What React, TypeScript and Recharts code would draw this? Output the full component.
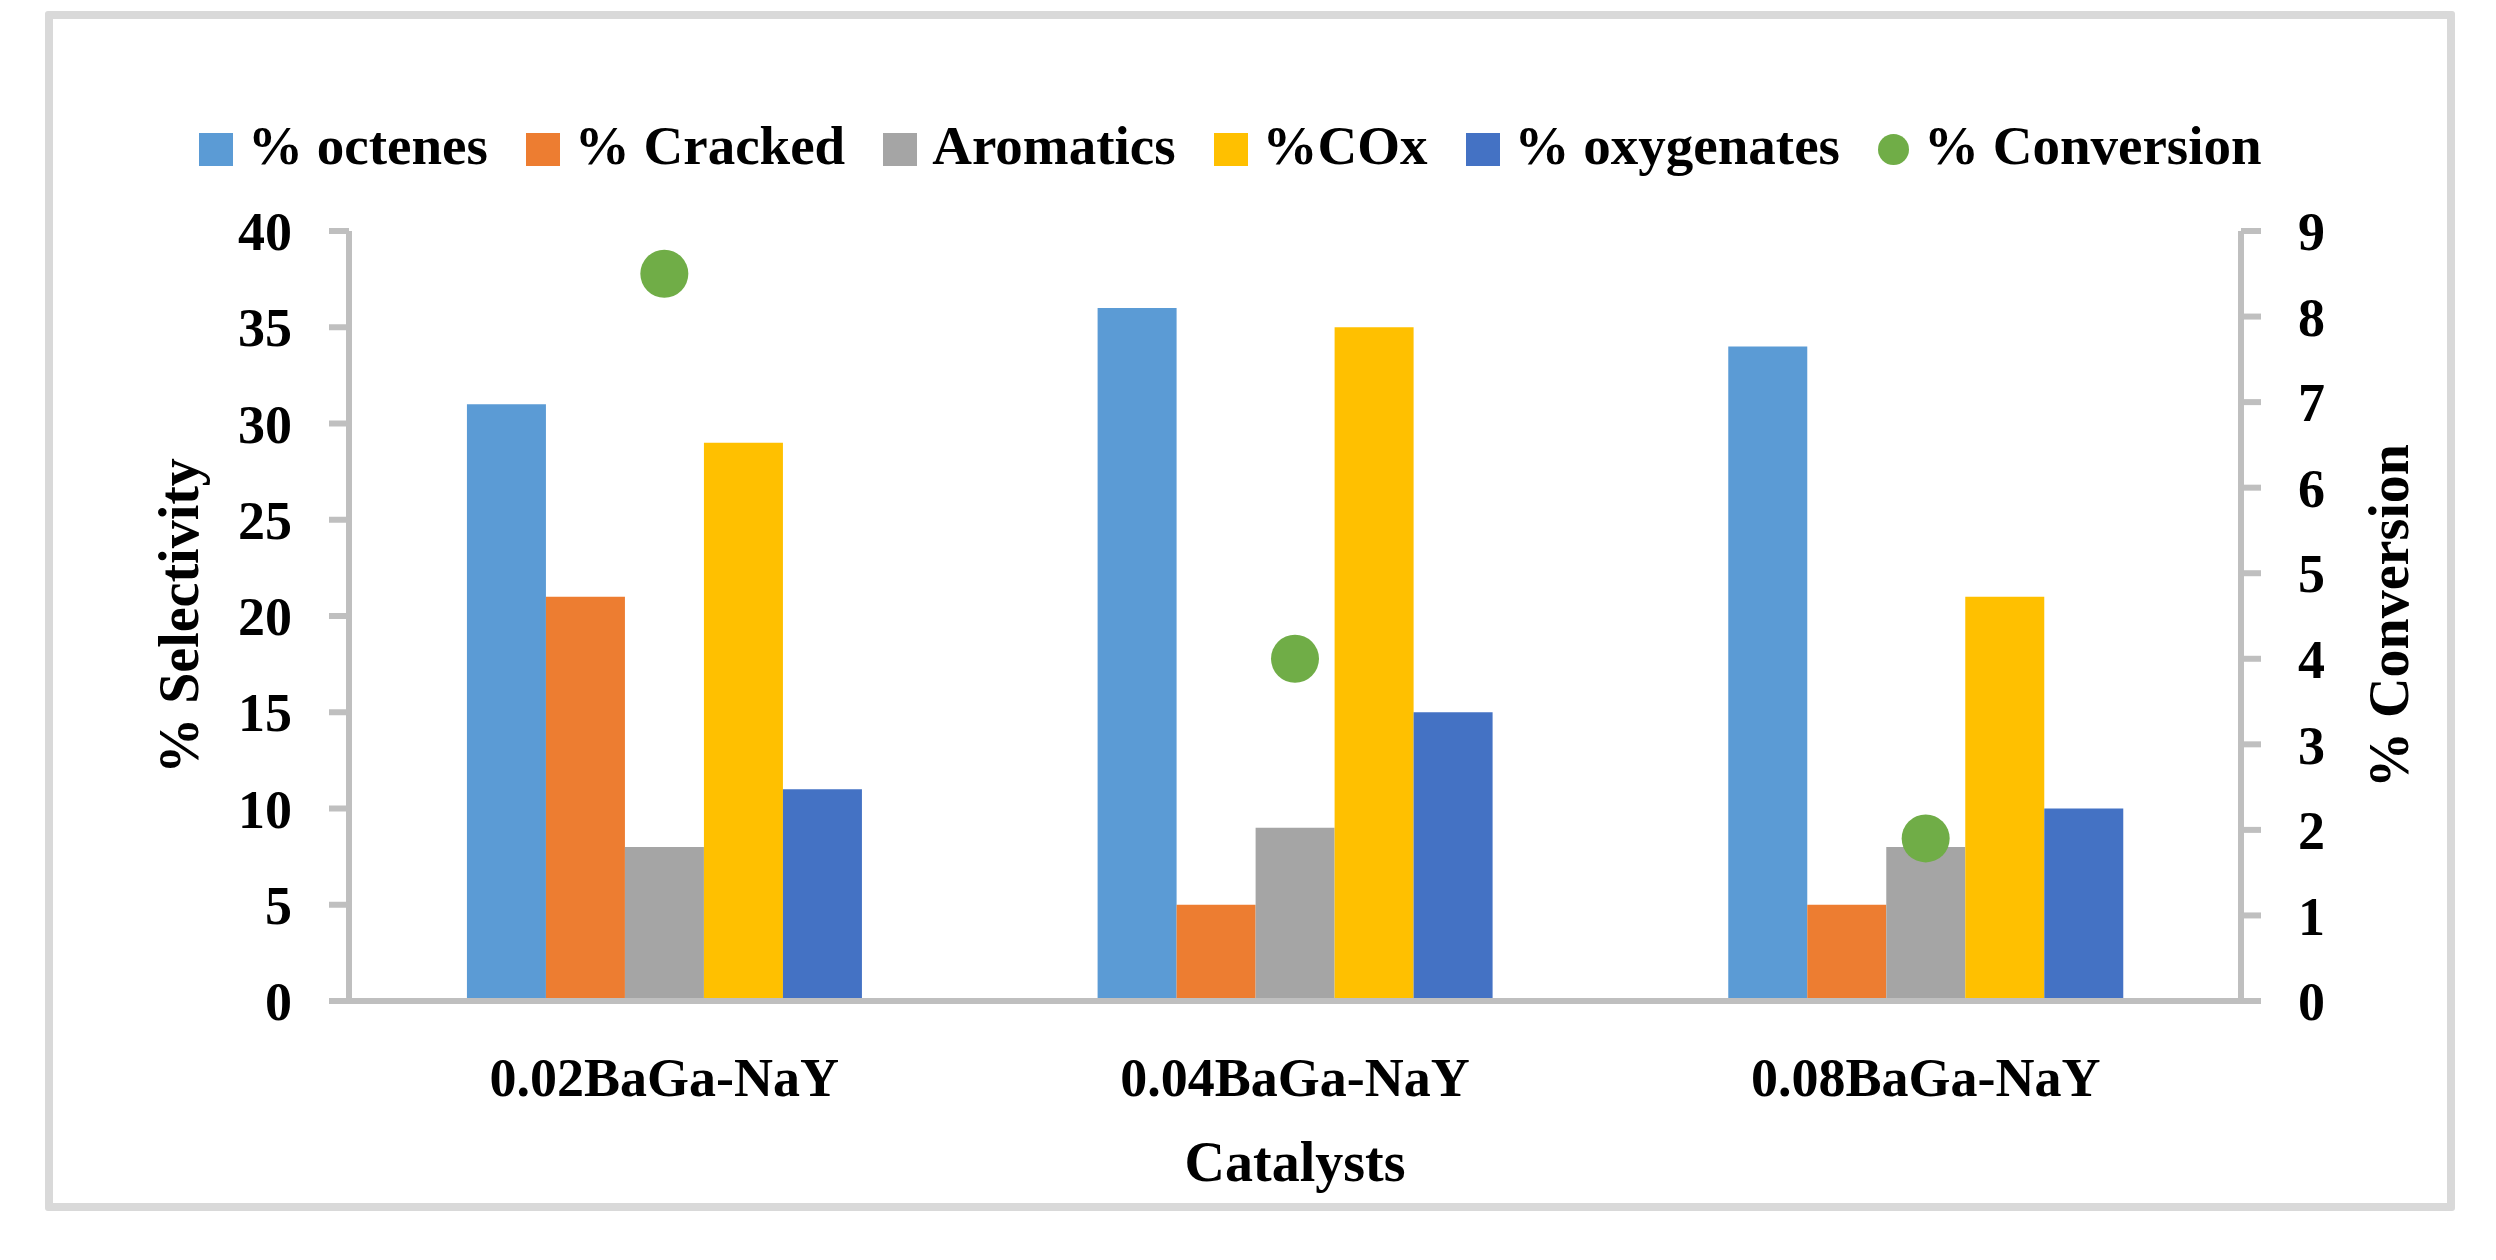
import { ComposedChart, Bar, Line, XAxis, YAxis, Label } from 'recharts';

const categories = ['0.02BaGa-NaY', '0.04BaGa-NaY', '0.08BaGa-NaY'];
const octenes = [31, 36, 34];
const cracked = [21, 5, 5];
const aromatics = [8, 9, 8];
const cox = [29, 35, 21];
const oxygenates = [11, 15, 10];
const conversion = [8.5, 4.0, 1.9];

const selectivityTicks = [0, 5, 10, 15, 20, 25, 30, 35, 40];
const conversionTicks = [0, 1, 2, 3, 4, 5, 6, 7, 8, 9];

const barSeries = [
  { key: 'octenes', name: '% octenes', color: '#5B9BD5' },
  { key: 'cracked', name: '% Cracked', color: '#ED7D31' },
  { key: 'aromatics', name: 'Aromatics', color: '#A5A5A5' },
  { key: 'cox', name: '%COx', color: '#FFC000' },
  { key: 'oxygenates', name: '% oxygenates', color: '#4472C4' },
];
const conversionSeries = { key: 'conversion', name: '% Conversion', color: '#70AD47' };

const data = categories.map((name, i) => ({
  name,
  octenes: octenes[i],
  cracked: cracked[i],
  aromatics: aromatics[i],
  cox: cox[i],
  oxygenates: oxygenates[i],
  conversion: conversion[i],
}));

const FONT = '"Liberation Serif", "Times New Roman", serif';
const AXIS_GRAY = '#bfbfbf';
const tickStyle = { fill: '#000', fontSize: 54, fontWeight: 'bold', fontFamily: FONT };
const titleStyle = { fill: '#000', fontSize: 56, fontWeight: 'bold', fontFamily: FONT, textAnchor: 'middle' as const };

const ChartLegend = () => (
  <div
    style={{
      position: 'absolute',
      left: 199,
      top: 118,
      display: 'flex',
      alignItems: 'center',
      fontFamily: FONT,
      fontWeight: 'bold',
      fontSize: 55,
      lineHeight: '56px',
      color: '#000',
      whiteSpace: 'nowrap',
    }}
  >
    {barSeries.map((s) => (
      <div key={s.key} style={{ display: 'flex', alignItems: 'center', marginRight: 38 }}>
        <span style={{ width: 34, height: 33, background: s.color, marginRight: 15, marginTop: 6 }} />
        <span>{s.name}</span>
      </div>
    ))}
    <div style={{ display: 'flex', alignItems: 'center' }}>
      <span
        style={{
          width: 31,
          height: 31,
          borderRadius: '50%',
          background: conversionSeries.color,
          marginRight: 15,
          marginTop: 6,
        }}
      />
      <span>{conversionSeries.name}</span>
    </div>
  </div>
);

export default function App() {
  return (
    <div style={{ position: 'absolute', left: 0, top: 0, width: 2496, height: 1260, background: '#fff' }}>
      <div
        style={{
          position: 'absolute',
          left: 45,
          top: 11,
          width: 2410,
          height: 1200,
          border: '8px solid #d9d9d9',
          borderRadius: 3,
          boxSizing: 'border-box',
          pointerEvents: 'none',
        }}
      />
      <ChartLegend />
      <div style={{ position: 'absolute', left: 0, top: 0 }}>
        <ComposedChart
          width={2496}
          height={1260}
          data={data}
          margin={{ top: 231, right: 0, bottom: 59, left: 0 }}
          barCategoryGap="18.7%"
          barGap={0}
        >
          <XAxis
            dataKey="name"
            height={200}
            tickLine={false}
            tickSize={0}
            tickMargin={57}
            axisLine={{ stroke: AXIS_GRAY, strokeWidth: 6 }}
            tick={tickStyle}
            interval={0}
          >
            <Label value="Catalysts" position="insideBottom" offset={20} style={titleStyle} />
          </XAxis>
          <YAxis
            yAxisId="left"
            orientation="left"
            width={349}
            domain={[0, 40]}
            ticks={selectivityTicks}
            interval={0}
            tickSize={20}
            tickMargin={37}
            axisLine={{ stroke: AXIS_GRAY, strokeWidth: 6 }}
            tickLine={{ stroke: AXIS_GRAY, strokeWidth: 6 }}
            tick={tickStyle}
          >
            <Label value="% Selectivity" angle={-90} position="insideLeft" offset={178} style={titleStyle} />
          </YAxis>
          <YAxis
            yAxisId="right"
            orientation="right"
            width={255}
            domain={[0, 9]}
            ticks={conversionTicks}
            interval={0}
            tickSize={20}
            tickMargin={37}
            axisLine={{ stroke: AXIS_GRAY, strokeWidth: 6 }}
            tickLine={{ stroke: AXIS_GRAY, strokeWidth: 6 }}
            tick={tickStyle}
          >
            <Label value="% Conversion" angle={-90} position="insideRight" offset={108} style={titleStyle} />
          </YAxis>
          {barSeries.map((s) => (
            <Bar
              key={s.key}
              yAxisId="left"
              dataKey={s.key}
              name={s.name}
              fill={s.color}
              isAnimationActive={false}
            />
          ))}
          <Line
            yAxisId="right"
            dataKey={conversionSeries.key}
            name={conversionSeries.name}
            stroke="none"
            dot={{ r: 24, fill: conversionSeries.color, stroke: 'none' }}
            activeDot={false}
            isAnimationActive={false}
          />
        </ComposedChart>
      </div>
    </div>
  );
}
